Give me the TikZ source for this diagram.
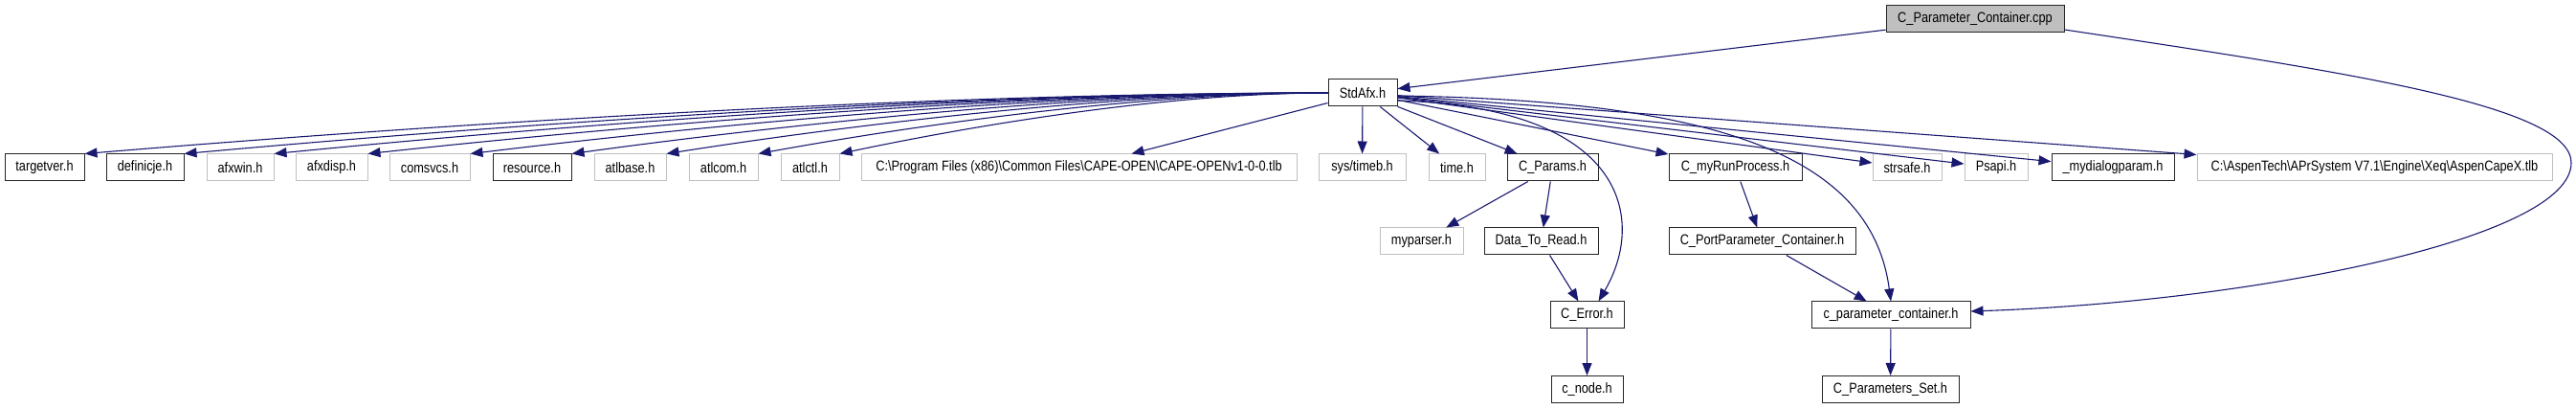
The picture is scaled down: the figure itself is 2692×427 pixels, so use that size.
\documentclass[tikz,border=0pt]{standalone}
\usepackage{fontspec}
\setmainfont{Liberation Sans}[FakeStretch=0.85]
\definecolor{edgeblue}{RGB}{25,25,112}
\definecolor{undocgrey}{RGB}{191,191,191}
\usetikzlibrary{arrows.meta}

\begin{document}
\begin{tikzpicture}[x=1pt, y=-1pt,
                box/.style={rectangle, draw=black!85, line width=1pt, inner sep=0pt,
                            minimum height=28pt, font=\fontsize{15}{18}\selectfont},
                extbox/.style={box, draw=undocgrey},
                mainbox/.style={box, fill=undocgrey},
                arr/.style={-{Triangle[length=13pt, width=10pt]}, edgeblue, line width=1.1pt}
            ]
                \useasboundingbox (0,0) rectangle (2692,427);

                \node[mainbox, minimum width=186pt] (cpp) at (2064,20) {C\_Parameter\_Container.cpp};
                \node[box, minimum width=72pt] (stdafx) at (1424,97) {StdAfx.h};

                \node[box, minimum width=83pt] (targetver) at (46.5,175) {targetver.h};
                \node[box, minimum width=81pt] (definicje) at (151.5,175) {definicje.h};
                \node[extbox, minimum width=70pt] (afxwin) at (251,175) {afxwin.h};
                \node[extbox, minimum width=75pt] (afxdisp) at (346.5,175) {afxdisp.h};
                \node[extbox, minimum width=84pt] (comsvcs) at (449,175) {comsvcs.h};
                \node[box, minimum width=82pt] (resource) at (556,175) {resource.h};
                \node[extbox, minimum width=75pt] (atlbase) at (658.5,175) {atlbase.h};
                \node[extbox, minimum width=72pt] (atlcom) at (756,175) {atlcom.h};
                \node[extbox, minimum width=61pt] (atlctl) at (846.5,175) {atlctl.h};
                \node[extbox, minimum width=455pt] (capeopen) at (1127.5,175)
                    {C:\textbackslash Program Files (x86)\textbackslash Common Files\textbackslash CAPE-OPEN\textbackslash CAPE-OPENv1-0-0.tlb};
                \node[extbox, minimum width=91pt] (systimeb) at (1423.5,175) {sys/timeb.h};
                \node[extbox, minimum width=59pt] (timeh) at (1522.5,175) {time.h};
                \node[box, minimum width=95pt] (cparams) at (1622.5,175) {C\_Params.h};
                \node[box, minimum width=139pt] (myrun) at (1813.5,175) {C\_myRunProcess.h};
                \node[extbox, minimum width=72pt] (strsafe) at (1993,175) {strsafe.h};
                \node[extbox, minimum width=66pt] (psapi) at (2086,175) {Psapi.h};
                \node[box, minimum width=128pt] (mydialog) at (2208,175) {\_mydialogparam.h};
                \node[extbox, minimum width=371pt] (aspencape) at (2481.5,175)
                    {C:\textbackslash AspenTech\textbackslash APrSystem V7.1\textbackslash Engine\textbackslash Xeq\textbackslash AspenCapeX.tlb};

                \node[extbox, minimum width=87pt] (myparser) at (1485.5,252) {myparser.h};
                \node[box, minimum width=119pt] (datatoread) at (1610.5,252) {Data\_To\_Read.h};
                \node[box, minimum width=195pt] (portparam) at (1841.5,252) {C\_PortParameter\_Container.h};

                \node[box, minimum width=77pt] (cerror) at (1658.5,329) {C\_Error.h};
                \node[box, minimum width=166pt] (cparamcont) at (1976,329) {c\_parameter\_container.h};

                \node[box, minimum width=75pt] (cnode) at (1658.5,406.5) {c\_node.h};
                \node[box, minimum width=143pt] (paramset) at (1975.5,406.5) {C\_Parameters\_Set.h};

                \coordinate (bend) at (2687,170);

                \draw[arr] (cpp) -- (stdafx);
                \draw[arr] ([yshift=-11pt]cpp.east) .. controls +(293,44) and +(0,-60) .. (bend)
                    .. controls +(0,80) and +(291,-10) .. ([yshift=4pt]cparamcont.east);

                \draw[arr] (stdafx.west) .. controls +(-455,0) and +(299,-25) .. (targetver.north east);
                \draw[arr] (stdafx.west) .. controls +(-419,0) and +(275,-25) .. (definicje.north east);
                \draw[arr] (stdafx.west) .. controls +(-386,0) and +(253,-25) .. (afxwin.north east);
                \draw[arr] (stdafx.west) .. controls +(-351,0) and +(231,-25) .. (afxdisp.north east);
                \draw[arr] (stdafx.west) .. controls +(-314,0) and +(206,-25) .. (comsvcs.north east);
                \draw[arr] (stdafx.west) .. controls +(-277,0) and +(182,-25) .. (resource.north east);
                \draw[arr] (stdafx.west) .. controls +(-242,0) and +(159,-25) .. (atlbase.north east);
                \draw[arr] (stdafx.west) .. controls +(-209,0) and +(137,-25) .. (atlcom.north east);
                \draw[arr] (stdafx.west) .. controls +(-179,0) and +(118,-25) .. (atlctl.north east);
                \draw[arr] ([yshift=4pt]stdafx.south west) -- ([xshift=55pt]capeopen.north);
                \draw[arr] (stdafx) -- (systimeb);
                \draw[arr] (stdafx) -- (timeh);
                \draw[arr] (stdafx) -- (cparams);
                \draw[arr] (stdafx) -- (myrun);
                \draw[arr] (stdafx) -- (strsafe);
                \draw[arr] (stdafx) -- (psapi);
                \draw[arr] (stdafx) -- (mydialog);
                \draw[arr] (stdafx) -- (aspencape);
                \draw[arr] ([yshift=-8pt]stdafx.east) .. controls +(240,7) and +(50,-85) .. ([xshift=12pt]cerror.north);
                \draw[arr] ([yshift=-3pt]stdafx.east) .. controls +(340,5) and +(-20,-150) .. (cparamcont.north);

                \draw[arr] (cparams) -- (myparser);
                \draw[arr] (cparams) -- (datatoread);
                \draw[arr] (datatoread) -- (cerror);
                \draw[arr] (cerror) -- (cnode);
                \draw[arr] (myrun) -- (portparam);
                \draw[arr] (portparam) -- (cparamcont);
                \draw[arr] (cparamcont) -- (paramset);
            \end{tikzpicture}
\end{document}
